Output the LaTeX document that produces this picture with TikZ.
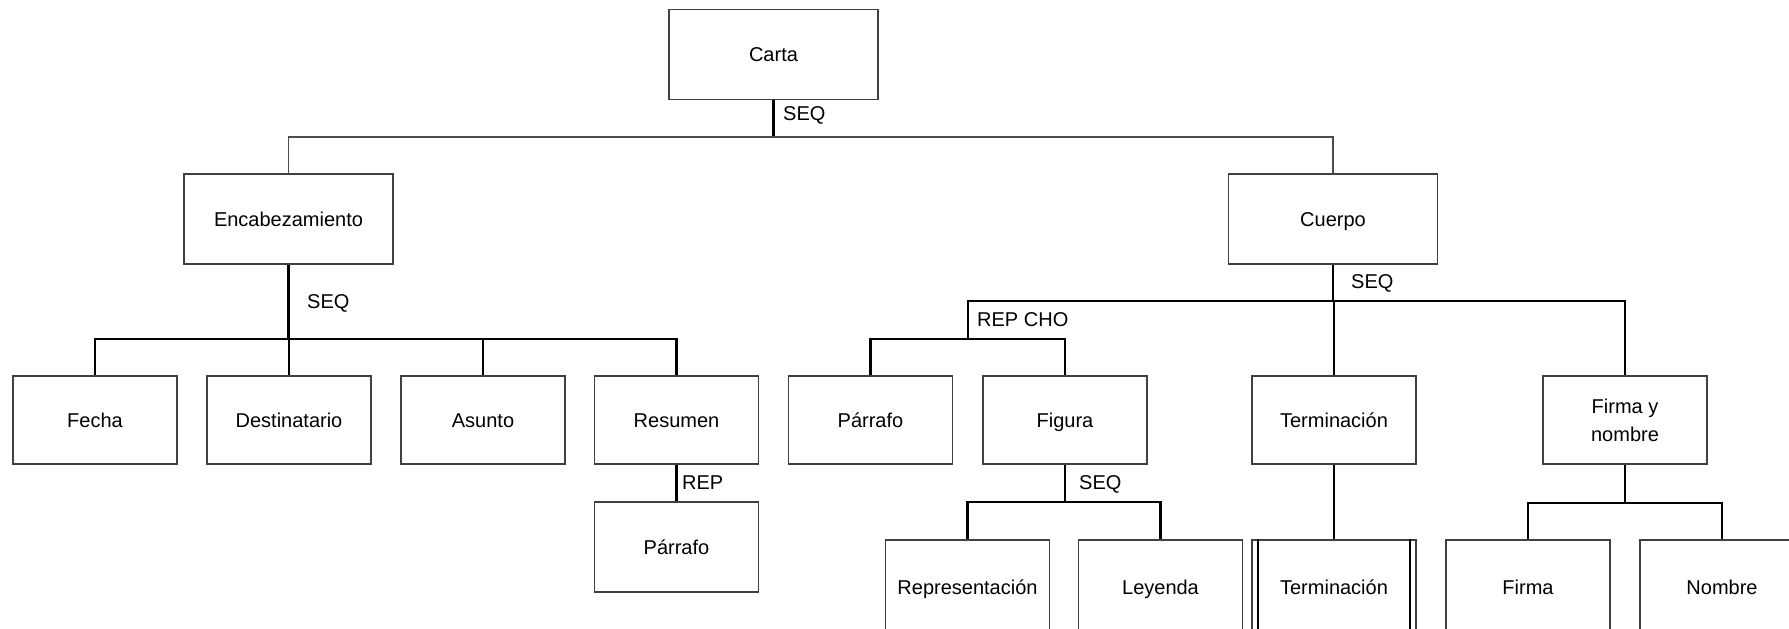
\documentclass[tikz,border=0pt]{standalone}
\usepackage{fontspec}
\setmainfont{Liberation Sans}
\begin{document}
\begin{tikzpicture}[x=1pt,y=-1pt,
  frame/.style={draw=black!75, line width=1.4pt, fill=white, rectangle,
    minimum width=164pt, minimum height=88pt, inner sep=0pt,
    font=\fontsize{20}{28}\selectfont, align=center},
  box/.style={frame, text height=14.3pt, text depth=0pt},
  bigbox/.style={box, minimum width=209pt, minimum height=90pt},
  lowbox/.style={box, minimum height=94pt},
  link/.style={draw=black, line width=2.4pt},
  linkthin/.style={draw=black!70, line width=1.5pt},
  tag/.style={anchor=west, inner sep=0pt, font=\fontsize{20}{24}\selectfont}]
\useasboundingbox (0,0) rectangle (1789,629);
\clip (0,0) rectangle (1789,629);

% top levels
\node[bigbox] (carta) at (773.5,54.5) {Carta};
\node[bigbox] (enc) at (288.5,219) {Encabezamiento};
\node[bigbox] (cuerpo) at (1333,219) {Cuerpo};

% second level
\node[box] (fecha) at (95,420) {Fecha};
\node[box] (dest) at (289,420) {Destinatario};
\node[box] (asunto) at (483,420) {Asunto};
\node[box] (resumen) at (676.5,420) {Resumen};
\node[box] (parr1) at (870.5,420) {Párrafo};
\node[box] (figura) at (1065,420) {Figura};
\node[box] (term) at (1334,420) {Terminación};
\node[frame] (fyn) at (1625,420) {Firma y\\nombre};

% third level (the lowest row runs past the lower edge)
\node[box, minimum height=90pt] (parr2) at (676.5,547) {Párrafo};
\node[lowbox] (repr) at (967.5,587) {Representación};
\node[lowbox] (ley) at (1160.5,587) {Leyenda};
\node[lowbox] (term2) at (1334,587) {Terminación};
\node[lowbox] (firma) at (1528,587) {Firma};
\node[lowbox] (nombre) at (1722,587) {Nombre};

% inner side bars of the repeated box
\draw[link, line width=2pt] ([xshift=6.5pt]term2.north west) -- ([xshift=6.5pt]term2.south west);
\draw[link, line width=2pt] ([xshift=-7pt]term2.north east) -- ([xshift=-7pt]term2.south east);

% junction points
\coordinate (b1) at (773.5,137);
\coordinate (b2) at (288.5,339);
\coordinate (b3) at (1333,301);
\coordinate (cho) at (968,339);
\coordinate (b4) at (1065,502);
\coordinate (b5) at (1625,503);

% Carta
\draw[link] (carta.south) -- (b1);
\draw[linkthin] (enc.north) |- (b1) -| (cuerpo.north);

% Encabezamiento
\draw[link] (enc.south) -- (b2);
\draw[link] (fecha.north) |- (b2) -| (resumen.north);
\draw[link] (dest.north) -- (dest.north |- b2);
\draw[link] (asunto.north) -- (asunto.north |- b2);
\draw[link] (resumen.south) -- (parr2.north);

% Cuerpo
\draw[link] (cuerpo.south) -- (b3);
\draw[link] (cho) -- (cho |- b3) -| (fyn.north);
\draw[link] (term.north) -- (term.north |- b3);
\draw[link] (parr1.north) |- (cho) -| (figura.north);

% Figura
\draw[link] (figura.south) -- (b4);
\draw[link] (repr.north) |- (b4) -| (ley.north);

% Terminacion
\draw[link] (term.south) -- (term2.north);

% Firma y nombre
\draw[link] (fyn.south) -- (b5);
\draw[link] (firma.north) |- (b5) -| (nombre.north);

% composition labels
\node[tag] (l1) at (783,115) {SEQ};
\node[tag] (l2) at (307,303) {SEQ};
\node[tag] (l3) at (1351,283) {SEQ};
\node[tag] (l4) at (977,320) {REP CHO};
\node[tag] (l5) at (1079,484) {SEQ};
\node[tag] (l6) at (682,483) {REP};
\end{tikzpicture}
\end{document}
